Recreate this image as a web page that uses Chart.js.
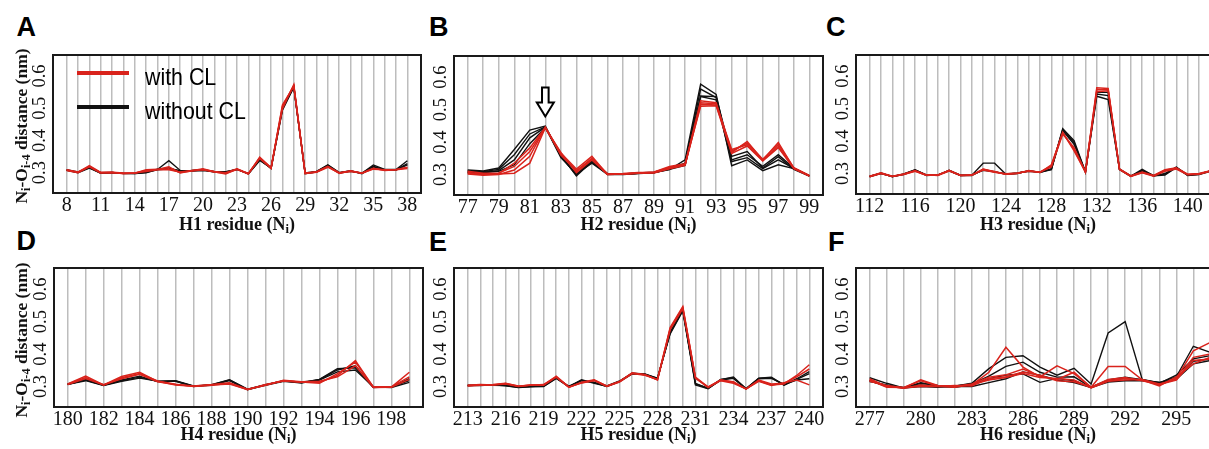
<!DOCTYPE html>
<html>
<head>
<meta charset="utf-8">
<script src="https://cdn.jsdelivr.net/npm/chart.js@4.4.1/dist/chart.umd.min.js"></script>
<style>
  html, body { margin: 0; padding: 0; background: #fff; }
  body { width: 1209px; height: 449px; overflow: hidden; position: relative; }
  canvas { position: absolute; }
  .letter { position: absolute; font: bold 27px "Liberation Sans", Arial, sans-serif; line-height: 1; color: #000; }
  .xtitle { position: absolute; font: bold 18px "Liberation Serif", "Times New Roman", serif; line-height: 1;
            transform: translateX(-50%); white-space: nowrap; color: #111; }
  .ytitle { position: absolute; font: bold 17.5px "Liberation Serif", "Times New Roman", serif; line-height: 1;
            transform: translate(-50%, -50%) rotate(-90deg); white-space: nowrap; color: #111; }
  sub { font-size: 70%; vertical-align: -0.25em; line-height: 0; }
  .leg { position: absolute; font: 24px "Liberation Sans", Arial, sans-serif; line-height: 1;
         transform: scaleX(0.89); transform-origin: left center; white-space: nowrap; }
  .legline { position: absolute; height: 4px; width: 52px; }
</style>
</head>
<body>

<script>
// residues (x categories)
var h1Residues = [8,9,10,11,12,13,14,15,16,17,18,19,20,21,22,23,24,25,26,27,28,29,30,31,32,33,34,35,36,37,38];
var h2Residues = [77,78,79,80,81,82,83,84,85,86,87,88,89,90,91,92,93,94,95,96,97,98,99];
var h3Residues = [112,113,114,115,116,117,118,119,120,121,122,123,124,125,126,127,128,129,130,131,132,133,134,135,136,137,138,139,140,141,142];
var h4Residues = [180,181,182,183,184,185,186,187,188,189,190,191,192,193,194,195,196,197,198,199];
var h5Residues = [213,214,215,216,217,218,219,220,221,222,223,224,225,226,227,228,229,230,231,232,233,234,235,236,237,238,239,240];
var h6Residues = [277,278,279,280,281,282,283,284,285,286,287,288,289,290,291,292,293,294,295,296,297];

// tick labels
var h1Ticks = [8,11,14,17,20,23,26,29,32,35,38];
var h2Ticks = [77,79,81,83,85,87,89,91,93,95,97,99];
var h3Ticks = [112,116,120,124,128,132,136,140];
var h4Ticks = [180,182,184,186,188,190,192,194,196,198];
var h5Ticks = [213,216,219,222,225,228,231,234,237,240];
var h6Ticks = [277,280,283,286,289,292,295];
var yTicks = [0.3, 0.4, 0.5, 0.6];

// Ni-Oi-4 distance (nm), with CL (red) and without CL (black)
var h1WithCL = [
  [0.308,0.301,0.322,0.301,0.301,0.299,0.299,0.307,0.310,0.318,0.299,0.306,0.312,0.303,0.296,0.311,0.296,0.348,0.315,0.498,0.573,0.297,0.302,0.319,0.298,0.306,0.298,0.313,0.308,0.309,0.313],
  [0.307,0.300,0.318,0.299,0.300,0.298,0.298,0.309,0.311,0.312,0.301,0.305,0.309,0.302,0.298,0.310,0.297,0.344,0.313,0.510,0.568,0.298,0.301,0.317,0.299,0.304,0.299,0.314,0.307,0.309,0.317],
  [0.309,0.302,0.320,0.300,0.301,0.297,0.299,0.304,0.309,0.309,0.302,0.307,0.310,0.304,0.300,0.312,0.298,0.346,0.316,0.505,0.570,0.299,0.303,0.320,0.300,0.305,0.298,0.311,0.309,0.310,0.315]
];
var h1WithoutCL = [
  [0.308,0.301,0.316,0.298,0.301,0.297,0.297,0.300,0.310,0.337,0.307,0.306,0.308,0.304,0.302,0.310,0.297,0.340,0.314,0.494,0.565,0.297,0.303,0.324,0.300,0.305,0.298,0.324,0.310,0.310,0.337],
  [0.307,0.300,0.314,0.299,0.300,0.298,0.298,0.302,0.311,0.315,0.305,0.307,0.310,0.302,0.301,0.311,0.296,0.338,0.315,0.500,0.566,0.298,0.302,0.322,0.299,0.304,0.299,0.320,0.308,0.308,0.324],
  [0.309,0.302,0.317,0.300,0.301,0.298,0.297,0.301,0.309,0.312,0.306,0.305,0.307,0.303,0.303,0.310,0.297,0.341,0.313,0.497,0.567,0.299,0.304,0.323,0.300,0.306,0.297,0.318,0.309,0.309,0.328]
];

var h2WithCL = [
  [0.304,0.300,0.302,0.304,0.335,0.444,0.366,0.317,0.356,0.300,0.302,0.305,0.306,0.320,0.330,0.527,0.521,0.368,0.402,0.345,0.399,0.320,0.296],
  [0.302,0.298,0.300,0.314,0.356,0.446,0.362,0.310,0.350,0.302,0.303,0.306,0.307,0.322,0.332,0.521,0.518,0.377,0.392,0.343,0.387,0.318,0.295],
  [0.310,0.304,0.305,0.325,0.371,0.443,0.368,0.306,0.345,0.301,0.301,0.304,0.305,0.318,0.328,0.516,0.514,0.372,0.397,0.347,0.393,0.321,0.297],
  [0.306,0.302,0.303,0.335,0.382,0.445,0.360,0.312,0.348,0.300,0.302,0.305,0.308,0.325,0.333,0.510,0.512,0.365,0.388,0.342,0.383,0.319,0.296]
];
var h2WithoutCL = [
  [0.314,0.311,0.320,0.377,0.437,0.449,0.356,0.299,0.345,0.302,0.301,0.304,0.306,0.315,0.345,0.578,0.547,0.327,0.345,0.312,0.330,0.318,0.296],
  [0.311,0.309,0.316,0.361,0.425,0.447,0.360,0.296,0.340,0.300,0.300,0.303,0.305,0.318,0.335,0.563,0.537,0.345,0.361,0.325,0.361,0.320,0.297],
  [0.308,0.307,0.312,0.345,0.413,0.446,0.352,0.302,0.335,0.301,0.302,0.305,0.307,0.320,0.330,0.542,0.540,0.356,0.371,0.320,0.355,0.316,0.295],
  [0.306,0.306,0.310,0.330,0.395,0.444,0.358,0.300,0.338,0.303,0.301,0.304,0.306,0.316,0.328,0.540,0.530,0.340,0.352,0.318,0.345,0.319,0.296]
];

var h3WithCL = [
  [0.291,0.301,0.291,0.298,0.308,0.295,0.295,0.310,0.294,0.295,0.313,0.306,0.298,0.301,0.308,0.304,0.324,0.427,0.370,0.305,0.564,0.562,0.313,0.292,0.303,0.293,0.310,0.316,0.297,0.299,0.308],
  [0.292,0.302,0.292,0.299,0.309,0.296,0.294,0.308,0.295,0.296,0.311,0.304,0.299,0.302,0.307,0.305,0.320,0.422,0.380,0.306,0.558,0.559,0.314,0.293,0.305,0.294,0.312,0.318,0.298,0.300,0.309],
  [0.290,0.300,0.291,0.297,0.307,0.295,0.296,0.309,0.294,0.295,0.314,0.305,0.298,0.300,0.309,0.303,0.327,0.425,0.375,0.304,0.552,0.555,0.312,0.291,0.302,0.292,0.307,0.314,0.296,0.298,0.307]
];
var h3WithoutCL = [
  [0.290,0.301,0.291,0.298,0.312,0.295,0.295,0.309,0.294,0.295,0.332,0.332,0.298,0.301,0.308,0.304,0.312,0.438,0.401,0.305,0.538,0.528,0.313,0.292,0.313,0.293,0.295,0.319,0.294,0.297,0.307],
  [0.291,0.302,0.290,0.299,0.311,0.296,0.295,0.310,0.295,0.296,0.310,0.305,0.299,0.302,0.307,0.305,0.313,0.432,0.390,0.306,0.550,0.550,0.314,0.293,0.308,0.292,0.300,0.320,0.295,0.298,0.308],
  [0.292,0.300,0.291,0.297,0.310,0.294,0.296,0.308,0.294,0.294,0.312,0.306,0.298,0.300,0.309,0.303,0.315,0.435,0.395,0.304,0.545,0.540,0.312,0.291,0.310,0.294,0.298,0.318,0.296,0.299,0.308]
];

var h4WithCL = [
  [0.308,0.332,0.305,0.331,0.344,0.316,0.305,0.301,0.305,0.308,0.291,0.305,0.318,0.313,0.313,0.334,0.380,0.298,0.298,0.344],
  [0.307,0.328,0.304,0.327,0.340,0.317,0.307,0.300,0.304,0.310,0.290,0.306,0.317,0.314,0.310,0.340,0.375,0.299,0.299,0.330],
  [0.306,0.325,0.306,0.324,0.338,0.315,0.306,0.302,0.306,0.312,0.292,0.304,0.319,0.315,0.316,0.330,0.364,0.297,0.298,0.322]
];
var h4WithoutCL = [
  [0.308,0.320,0.304,0.318,0.329,0.316,0.318,0.302,0.305,0.320,0.291,0.305,0.318,0.313,0.321,0.351,0.364,0.298,0.298,0.324],
  [0.307,0.318,0.303,0.316,0.326,0.317,0.316,0.301,0.304,0.318,0.290,0.304,0.316,0.312,0.320,0.345,0.351,0.299,0.297,0.313],
  [0.306,0.321,0.305,0.320,0.332,0.315,0.317,0.300,0.306,0.321,0.292,0.306,0.317,0.311,0.322,0.355,0.358,0.297,0.299,0.318]
];

var h5WithCL = [
  [0.303,0.305,0.306,0.310,0.301,0.305,0.305,0.332,0.298,0.313,0.321,0.301,0.315,0.342,0.336,0.321,0.482,0.546,0.329,0.298,0.321,0.313,0.293,0.318,0.305,0.308,0.334,0.367],
  [0.302,0.304,0.305,0.309,0.302,0.304,0.306,0.330,0.299,0.311,0.318,0.300,0.314,0.340,0.335,0.322,0.478,0.543,0.325,0.299,0.319,0.315,0.292,0.320,0.308,0.310,0.330,0.354],
  [0.304,0.306,0.305,0.308,0.300,0.305,0.304,0.329,0.297,0.312,0.319,0.302,0.316,0.341,0.337,0.320,0.475,0.540,0.327,0.297,0.318,0.310,0.293,0.316,0.303,0.312,0.320,0.305]
];
var h5WithoutCL = [
  [0.303,0.304,0.305,0.302,0.297,0.299,0.300,0.325,0.300,0.321,0.310,0.301,0.316,0.340,0.338,0.326,0.462,0.533,0.305,0.293,0.321,0.329,0.293,0.326,0.329,0.305,0.324,0.346],
  [0.302,0.305,0.304,0.303,0.298,0.300,0.302,0.327,0.301,0.318,0.312,0.300,0.315,0.339,0.337,0.324,0.468,0.537,0.310,0.294,0.320,0.325,0.294,0.324,0.325,0.307,0.320,0.324],
  [0.304,0.303,0.305,0.304,0.299,0.301,0.301,0.326,0.299,0.319,0.313,0.302,0.317,0.341,0.339,0.325,0.465,0.535,0.308,0.295,0.322,0.327,0.292,0.325,0.327,0.304,0.322,0.340]
];

var h6WithCL = [
  [0.324,0.300,0.296,0.321,0.303,0.302,0.305,0.344,0.421,0.360,0.330,0.364,0.340,0.298,0.362,0.362,0.321,0.305,0.325,0.410,0.436],
  [0.320,0.298,0.297,0.318,0.302,0.300,0.308,0.329,0.336,0.354,0.332,0.322,0.344,0.297,0.318,0.325,0.320,0.302,0.330,0.370,0.390],
  [0.318,0.302,0.295,0.305,0.300,0.303,0.302,0.325,0.330,0.345,0.335,0.318,0.315,0.298,0.322,0.328,0.318,0.306,0.320,0.380,0.385],
  [0.316,0.303,0.296,0.300,0.301,0.298,0.306,0.320,0.328,0.340,0.328,0.325,0.320,0.296,0.316,0.320,0.322,0.308,0.322,0.390,0.400]
];
var h6WithoutCL = [
  [0.327,0.310,0.296,0.310,0.303,0.301,0.310,0.355,0.390,0.395,0.360,0.335,0.356,0.308,0.465,0.500,0.322,0.312,0.330,0.424,0.405],
  [0.315,0.305,0.295,0.300,0.298,0.302,0.308,0.332,0.362,0.375,0.344,0.329,0.330,0.298,0.320,0.329,0.321,0.310,0.335,0.385,0.395],
  [0.320,0.303,0.297,0.305,0.300,0.298,0.306,0.324,0.335,0.339,0.313,0.325,0.318,0.297,0.318,0.325,0.320,0.308,0.324,0.378,0.385],
  [0.318,0.300,0.296,0.312,0.302,0.300,0.300,0.312,0.324,0.345,0.335,0.320,0.312,0.297,0.314,0.318,0.318,0.313,0.322,0.370,0.380]
];

var RED = '#d9231c';
var BLACK = '#111111';

// plugin: frame around plot, rotated y labels, optional arrow
var framePlugin = {
  id: 'frame',
  afterDraw: function(chart) {
    var ctx = chart.ctx, a = chart.chartArea, ys = chart.scales.y, xs = chart.scales.x;
    ctx.save();
    ctx.strokeStyle = '#1a1a1a';
    ctx.lineWidth = 2;
    ctx.strokeRect(a.left, a.top, a.right - a.left, a.bottom - a.top);
    ctx.fillStyle = '#111';
    ctx.font = '18.5px "Liberation Serif", "Times New Roman", serif';
    ctx.textAlign = 'center';
    ctx.textBaseline = 'alphabetic';
    yTicks.forEach(function(v) {
      ctx.save();
      ctx.translate(a.left - 8.5, ys.getPixelForValue(v));
      ctx.rotate(-Math.PI / 2);
      ctx.fillText(v.toFixed(1), 0, 0);
      ctx.restore();
    });
    var arrow = chart.options.plugins.frame && chart.options.plugins.frame.arrow;
    if (arrow) {
      var px = xs.getPixelForValue(arrow.x), tip = ys.getPixelForValue(arrow.y);
      ctx.beginPath();
      ctx.moveTo(px, tip);
      ctx.lineTo(px - 8.5, tip - 14);
      ctx.lineTo(px - 3.3, tip - 14);
      ctx.lineTo(px - 3.3, tip - 29);
      ctx.lineTo(px + 3.3, tip - 29);
      ctx.lineTo(px + 3.3, tip - 14);
      ctx.lineTo(px + 8.5, tip - 14);
      ctx.closePath();
      ctx.fillStyle = '#fff';
      ctx.fill();
      ctx.lineWidth = 2;
      ctx.strokeStyle = '#000';
      ctx.stroke();
    }
    ctx.restore();
  }
};

function makePanel(box, residues, ticks, redSets, blackSets, arrow) {
  var L = 50, T = 6, R = 6, B = 28;
  var canvas = document.createElement('canvas');
  canvas.width = box.w + L + R;
  canvas.height = box.h + T + B;
  canvas.style.left = (box.left - L) + 'px';
  canvas.style.top = (box.top - T) + 'px';
  document.body.appendChild(canvas);

  var first = residues[0], last = residues[residues.length - 1];
  var pad = (last - first) * 0.04;
  var datasets = [];
  redSets.forEach(function(vals) {
    datasets.push({
      data: residues.map(function(r, i) { return { x: r, y: vals[i] }; }),
      borderColor: RED, borderWidth: 1.5, pointRadius: 0, tension: 0, fill: false
    });
  });
  blackSets.forEach(function(vals) {
    datasets.push({
      data: residues.map(function(r, i) { return { x: r, y: vals[i] }; }),
      borderColor: BLACK, borderWidth: 1.4, pointRadius: 0, tension: 0, fill: false
    });
  });

  new Chart(canvas, {
    type: 'line',
    data: { datasets: datasets },
    options: {
      responsive: false,
      animation: false,
      devicePixelRatio: 1,
      layout: { padding: { left: 0, top: T, right: R, bottom: 0 } },
      plugins: { legend: { display: false }, tooltip: { enabled: false }, frame: { arrow: arrow } },
      scales: {
        x: {
          type: 'linear',
          min: first - pad,
          max: last + pad,
          afterBuildTicks: function(s) { s.ticks = residues.map(function(v) { return { value: v }; }); },
          afterFit: function(s) { s.height = B; },
          border: { display: false },
          grid: { color: '#bdbdbd', lineWidth: 1.5, drawTicks: false },
          ticks: {
            autoSkip: false, maxRotation: 0, minRotation: 0, padding: 1, color: '#111',
            font: { family: '"Liberation Serif", "Times New Roman", serif', size: 20 },
            callback: function(v) { return ticks.indexOf(v) >= 0 ? String(v) : ''; }
          }
        },
        y: {
          type: 'linear',
          min: 0.237,
          max: 0.665,
          afterBuildTicks: function(s) { s.ticks = yTicks.map(function(v) { return { value: v }; }); },
          afterFit: function(s) { s.width = L; },
          border: { display: false },
          grid: { display: false },
          ticks: { display: false }
        }
      }
    },
    plugins: [framePlugin]
  });
}

function addDiv(cls, html, left, top) {
  var d = document.createElement('div');
  d.className = cls;
  d.innerHTML = html;
  d.style.left = left + 'px';
  d.style.top = top + 'px';
  document.body.appendChild(d);
  return d;
}

var boxA = { left: 53, top: 55, w: 368, h: 138 };
var boxB = { left: 454, top: 56, w: 369, h: 139 };
var boxC = { left: 856, top: 54.5, w: 368, h: 139 };
var boxD = { left: 54, top: 268, w: 369, h: 139.5 };
var boxE = { left: 454, top: 268, w: 369, h: 139.5 };
var boxF = { left: 856, top: 268, w: 368, h: 139.5 };

makePanel(boxA, h1Residues, h1Ticks, h1WithCL, h1WithoutCL, null);
makePanel(boxB, h2Residues, h2Ticks, h2WithCL, h2WithoutCL, { x: 82, y: 0.479 });
makePanel(boxC, h3Residues, h3Ticks, h3WithCL, h3WithoutCL, null);
makePanel(boxD, h4Residues, h4Ticks, h4WithCL, h4WithoutCL, null);
makePanel(boxE, h5Residues, h5Ticks, h5WithCL, h5WithoutCL, null);
makePanel(boxF, h6Residues, h6Ticks, h6WithCL, h6WithoutCL, null);

// panel letters
addDiv('letter', 'A', 16.5, 14);
addDiv('letter', 'B', 429, 14);
addDiv('letter', 'C', 826, 14);
addDiv('letter', 'D', 16.5, 228);
addDiv('letter', 'E', 429, 229);
addDiv('letter', 'F', 828, 229);

// axis titles
addDiv('xtitle', 'H1 residue (N<sub>i</sub>)', boxA.left + boxA.w / 2, 215);
addDiv('xtitle', 'H2 residue (N<sub>i</sub>)', boxB.left + boxB.w / 2, 215);
addDiv('xtitle', 'H3 residue (N<sub>i</sub>)', boxC.left + boxC.w / 2 - 2, 215);
addDiv('xtitle', 'H4 residue (N<sub>i</sub>)', boxD.left + boxD.w / 2, 425);
addDiv('xtitle', 'H5 residue (N<sub>i</sub>)', boxE.left + boxE.w / 2, 425);
addDiv('xtitle', 'H6 residue (N<sub>i</sub>)', boxF.left + boxF.w / 2 - 2, 425);
addDiv('ytitle', 'N<sub>i</sub>-O<sub>i-4</sub> distance (nm)', 22, boxA.top + boxA.h / 2 + 2);
addDiv('ytitle', 'N<sub>i</sub>-O<sub>i-4</sub> distance (nm)', 22, boxD.top + boxD.h / 2 + 2);

// legend in panel A
var l1 = addDiv('legline', '', 77, 71.3); l1.style.background = RED;
var l2 = addDiv('legline', '', 77, 104.7); l2.style.background = BLACK;
addDiv('leg', 'with CL', 145, 64.5);
addDiv('leg', 'without CL', 145, 98.5);
</script>
</body>
</html>
